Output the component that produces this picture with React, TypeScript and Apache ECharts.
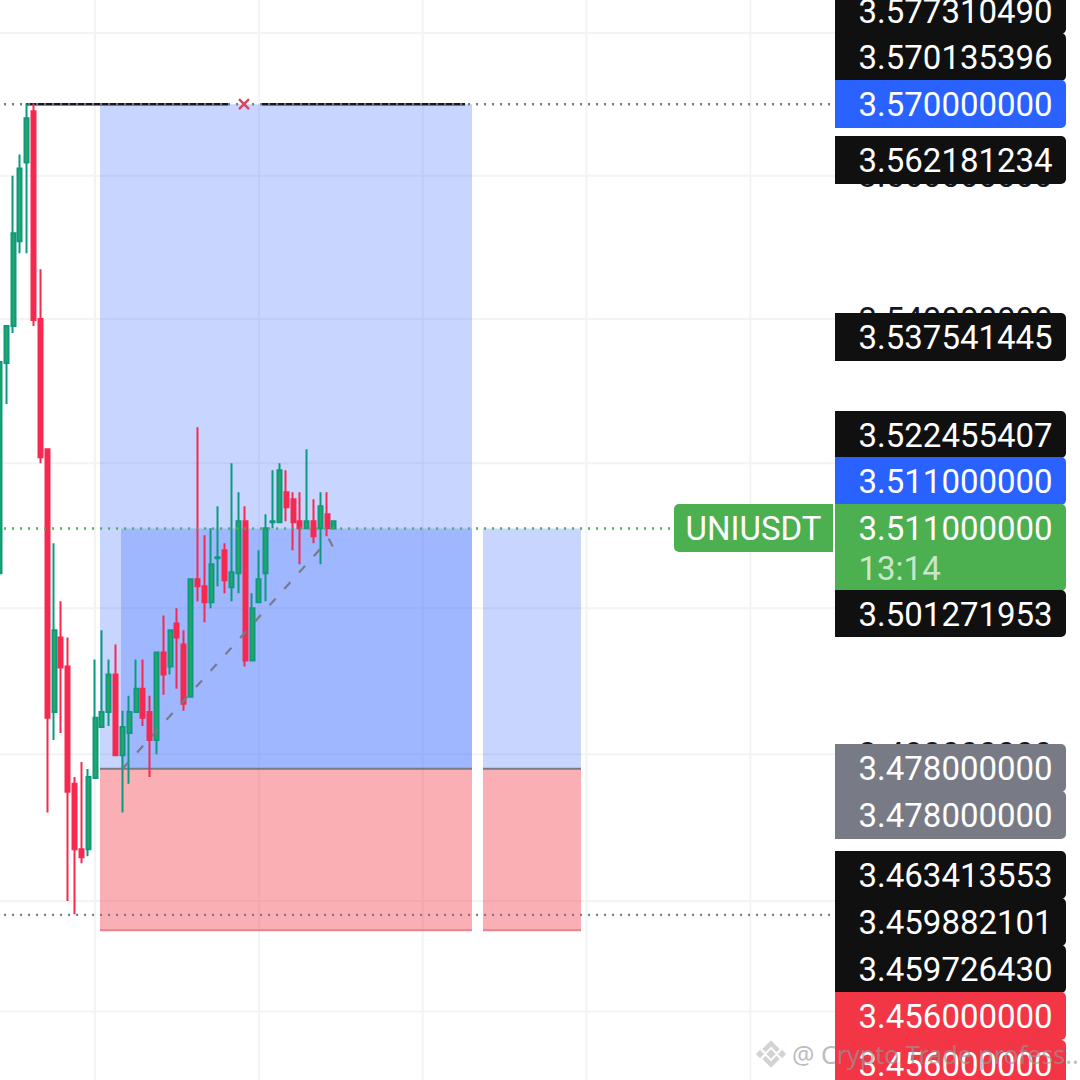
import React, { useEffect, useRef } from "react";
import * as echarts from "echarts";

const opens = [3.50483,3.53389,3.53903,3.55083,3.56183,3.56901,3.54,3.52194,3.48579,3.496,3.492,3.47595,3.46703,3.46703,3.47676,3.48373,3.48579,3.4909,3.47986,3.4829,3.48579,3.48897,3.48579,3.48193,3.49393,3.492,3.49793,3.49503,3.48786,3.504,3.50303,3.50083,3.5069,3.508,3.5029,3.50483,3.512,3.49283,3.50083,3.50483,3.51186,3.51186,3.516,3.51503,3.512,3.51103,3.512,3.51103,3.51297,3.511];
const closes = [3.53403,3.53903,3.55194,3.56099,3.56803,3.53986,3.52083,3.48497,3.49697,3.49186,3.47486,3.46703,3.46595,3.47689,3.48497,3.48579,3.4909,3.47986,3.48373,3.48579,3.48897,3.48497,3.48193,3.49393,3.4909,3.49697,3.496,3.4869,3.504,3.50303,3.50083,3.50607,3.50703,3.50386,3.50497,3.512,3.49283,3.5,3.504,3.51103,3.512,3.51903,3.51393,3.51186,3.51103,3.512,3.50993,3.51407,3.51103,3.512];
const lows = [3.50483,3.52819,3.53806,3.54917,3.54917,3.53903,3.52,3.47203,3.48193,3.4829,3.46,3.4582,3.46514,3.46608,3.47676,3.48373,3.48386,3.47986,3.47203,3.47595,3.48579,3.48386,3.47689,3.48,3.48814,3.4909,3.48897,3.48593,3.48786,3.50097,3.49807,3.5,3.50303,3.50207,3.50097,3.50207,3.492,3.49283,3.50083,3.50097,3.51103,3.51186,3.512,3.508,3.50607,3.51103,3.50897,3.50607,3.50993,3.511];
const highs = [3.53403,3.53903,3.56,3.56296,3.57014,3.57014,3.54694,3.52194,3.50897,3.50097,3.496,3.47689,3.47892,3.47797,3.49297,3.49697,3.49297,3.49503,3.48593,3.488,3.49297,3.49297,3.488,3.49393,3.49903,3.49697,3.5,3.49697,3.504,3.525,3.51007,3.51103,3.51407,3.50897,3.52,3.516,3.51407,3.50207,3.508,3.51297,3.51903,3.52,3.51903,3.516,3.516,3.52194,3.51503,3.516,3.516,3.512];

const categories = Array.from({ length: 123 }, (_, i) => String(i));
const gridLevels = [3.58, 3.56, 3.54, 3.52, 3.5, 3.48, 3.46, 3.445];
const gridBars = [14, 38, 62, 86, 110];
const axisLabelLevels = [3.56, 3.54, 3.48];

// position tool: [from bar, to bar, upper price, lower price]
const targetBox = [14.72, 69.22, 3.57, 3.478];
const entryBox = [17.8, 69.22, 3.511, 3.478];
const stopBox = [14.72, 69.22, 3.478, 3.456];
const targetBox2 = [70.83, 85.19, 3.511, 3.478];
const stopBox2 = [70.83, 85.19, 3.478, 3.456];
const BLUE = "rgba(41,98,255,0.26)";
const RED = "rgba(242,54,69,0.4)";

const highSegments = [[3.88, 33.47, 3.57], [38.46, 68.2, 3.57]];
const stopLines = [[14.72, 69.22, 3.478], [70.83, 85.19, 3.478]];
const bottomLines = [[14.72, 69.22, 3.456], [70.83, 85.19, 3.456]];
const dottedLevels = [[3.57, "#787b86"], [3.511, "#4caf50"], [3.4581, "#787b86"]];
const pathBars = [18.0, 48.27, 49.15];
const pathPrices = [3.478, 3.5095, 3.5079];
const crossMark = [35.82, 3.57];

const tagTexts = ["3.577310490","3.570135396","3.570000000","3.562181234","3.537541445","3.522455407","3.511000000","3.511000000","3.501271953","3.478000000","3.478000000","3.463413553","3.459882101","3.459726430","3.456000000","3.456000000"];
const tagColors = ["#101010","#101010","#2962ff","#101010","#101010","#101010","#2962ff","#4caf50","#101010","#787b86","#787b86","#101010","#101010","#101010","#f23645","#f23645"];
const tagTops = [-13,33,80,136,313,411,457,504,590,744,791,851,898,945,992,1040];
const tagHeights = [47,48,48,48,48,47,48,87,47,48,48,48,48,48,48,48];
const symbolName = "UNIUSDT";
const countdown = "13:14";
const watermark = "@ Crypto Trade profess...";

const FONT = "Roboto, sans-serif";

function line(api: any, x1: number, y1: number, x2: number, y2: number, style: any) {
  const a = api.coord([x1, y1]);
  const b = api.coord([x2, y2]);
  return { type: "line", shape: { x1: a[0], y1: a[1], x2: b[0], y2: b[1] }, style };
}

function diamond(cx: number, cy: number, r: number, fill: string) {
  return {
    type: "polygon",
    z: 120,
    shape: { points: [[cx, cy - r], [cx + r, cy], [cx, cy + r], [cx - r, cy]] },
    style: { fill, stroke: "rgba(255,255,255,0.6)", lineWidth: 1 },
  };
}

function chevron(cx: number, cy: number, dir: number, fill: string) {
  return {
    type: "polygon",
    z: 120,
    shape: {
      points: [
        [cx, cy - dir * 14],
        [cx + 9, cy - dir * 5],
        [cx + 5.5, cy - dir * 1.5],
        [cx, cy - dir * 7],
        [cx - 5.5, cy - dir * 1.5],
        [cx - 9, cy - dir * 5],
      ],
    },
    style: { fill, stroke: "rgba(255,255,255,0.6)", lineWidth: 1 },
  };
}

export default function App() {
  const ref = useRef<HTMLDivElement>(null);
  useEffect(() => {
    const chart = echarts.init(ref.current!, null, { renderer: "svg", width: 1080, height: 1080 });

    const tagGraphics: any[] = [];
    tagTexts.forEach((t, i) => {
      tagGraphics.push({
        type: "rect",
        z: 100 + i * 0.01,
        shape: { x: 835, y: tagTops[i], width: 231, height: tagHeights[i], r: [0, 5, 5, 0] },
        style: { fill: tagColors[i] },
      });
      tagGraphics.push({
        type: "text",
        z: 100.005 + i * 0.01,
        x: 858.5,
        y: tagTops[i] + 24,
        style: { text: t, font: `33px ${FONT}`, fill: "#ffffff", textAlign: "left", textVerticalAlign: "middle" },
      });
    });

    const wm = "rgba(175,175,180,0.55)";
    const decorations = [
      {
        type: "rect",
        z: 101,
        shape: { x: 674, y: 504, width: 159, height: 48, r: [5, 0, 0, 5] },
        style: { fill: "#4caf50" },
      },
      {
        type: "text",
        z: 101,
        x: 753.5,
        y: 528,
        style: { text: symbolName, font: `33px ${FONT}`, fill: "#ffffff", textAlign: "center", textVerticalAlign: "middle" },
      },
      {
        type: "text",
        z: 101,
        x: 858.5,
        y: 568,
        style: { text: countdown, font: `33px ${FONT}`, fill: "#c8e7c9", textAlign: "left", textVerticalAlign: "middle" },
      },
      chevron(771, 1040 + 14, 1, wm),
      chevron(771, 1068 - 14, -1, wm),
      diamond(760, 1054, 4.5, wm),
      diamond(782, 1054, 4.5, wm),
      diamond(771, 1054, 5, wm),
      {
        type: "text",
        z: 120,
        x: 792,
        y: 1054,
        style: {
          text: watermark,
          font: `25px "Noto Sans", sans-serif`,
          fill: "rgba(150,150,155,0.65)",
          textAlign: "left",
          textVerticalAlign: "middle",
        },
      },
    ];

    chart.setOption({
      animation: false,
      backgroundColor: "#ffffff",
      grid: { left: -3.913, width: 839.6, top: -108.8, height: 1231.4, containLabel: false, outerBoundsMode: "none" },
      xAxis: [
        { type: "category", data: categories, boundaryGap: true, axisLine: { show: false }, axisTick: { show: false }, axisLabel: { show: false }, splitLine: { show: false } },
        { type: "value", min: -0.5, max: 122.5, show: false, splitLine: { show: false } },
      ],
      yAxis: {
        type: "log",
        logBase: Math.E,
        min: 3.43,
        max: 3.6,
        position: "right",
        axisLine: { show: false },
        axisTick: { show: false },
        axisLabel: { show: false },
        splitLine: { show: false },
      },
      series: [
        {
          type: "custom",
          name: "grid",
          xAxisIndex: 1,
          z: 0,
          silent: true,
          clip: false,
          encode: { x: 0, y: 1 },
          data: gridLevels.map((v) => [0, v]),
          renderItem: (_: any, api: any) =>
            line(api, -0.5, api.value(1), 122.5, api.value(1), { stroke: "#f2f3f5", lineWidth: 2 }),
        },
        {
          type: "custom",
          name: "gridV",
          xAxisIndex: 1,
          z: 0,
          silent: true,
          clip: false,
          encode: { x: 0, y: 1 },
          data: gridBars.map((b) => [b, 3.5]),
          renderItem: (_: any, api: any) =>
            line(api, api.value(0), 3.43, api.value(0), 3.6, { stroke: "#f2f3f5", lineWidth: 2 }),
        },
        {
          type: "custom",
          name: "axisLabels",
          xAxisIndex: 1,
          z: 1,
          silent: true,
          clip: false,
          encode: { x: 0, y: 1 },
          data: axisLabelLevels.map((v) => [122.5, v]),
          renderItem: (_: any, api: any) => {
            const p = api.coord([122.5, api.value(1)]);
            return {
              type: "text",
              x: 858.5,
              y: p[1],
              style: {
                text: api.value(1).toFixed(9),
                font: `33px ${FONT}`,
                fill: "#131722",
                textAlign: "left",
                textVerticalAlign: "middle",
              },
            };
          },
        },
        {
          type: "custom",
          name: "boxes",
          xAxisIndex: 1,
          z: 1,
          silent: true,
          clip: false,
          encode: { x: 0, y: 2 },
          data: [
            [...targetBox, 0],
            [...entryBox, 0],
            [...stopBox, 1],
            [...targetBox2, 0],
            [...stopBox2, 1],
          ],
          renderItem: (_: any, api: any) => {
            const a = api.coord([api.value(0), api.value(2)]);
            const b = api.coord([api.value(1), api.value(3)]);
            return {
              type: "rect",
              shape: { x: a[0], y: a[1], width: b[0] - a[0], height: b[1] - a[1] },
              style: { fill: api.value(4) === 0 ? BLUE : RED },
            };
          },
        },
        {
          type: "custom",
          name: "edges",
          xAxisIndex: 1,
          z: 1.5,
          silent: true,
          clip: false,
          encode: { x: 0, y: 2 },
          data: stopLines.map((l) => [...l, 0]).concat(bottomLines.map((l) => [...l, 1])),
          renderItem: (_: any, api: any) =>
            line(api, api.value(0), api.value(2), api.value(1), api.value(2), {
              stroke: api.value(3) === 0 ? "#787b86" : "rgba(225,110,125,0.8)",
              lineWidth: 2,
            }),
        },
        {
          type: "custom",
          name: "highLine",
          xAxisIndex: 1,
          z: 1.5,
          silent: true,
          clip: false,
          encode: { x: 0, y: 2 },
          data: highSegments,
          renderItem: (_: any, api: any) =>
            line(api, api.value(0), api.value(2), api.value(1), api.value(2), { stroke: "#131722", lineWidth: 2.5 }),
        },
        {
          type: "candlestick",
          name: "UNIUSDT",
          xAxisIndex: 0,
          z: 2,
          barWidth: 4.5,
          clip: false,
          data: opens.map((o, i) => [o, closes[i], lows[i], highs[i]]),
          itemStyle: {
            color: "#2aa862",
            color0: "#f72950",
            borderColor: "#0b9a80",
            borderColor0: "#f72950",
            borderWidth: 2,
          },
        },
        {
          type: "line",
          name: "path",
          xAxisIndex: 1,
          z: 3,
          silent: true,
          symbol: "none",
          data: pathBars.map((b, i) => [b, pathPrices[i]]),
          lineStyle: { color: "#787b86", width: 2.2, type: [9, 13] },
        },
        {
          type: "custom",
          name: "dotted",
          xAxisIndex: 1,
          z: 3,
          silent: true,
          clip: false,
          encode: { x: 0, y: 1 },
          data: dottedLevels.map((d, i) => [i, d[0]]),
          renderItem: (_: any, api: any) =>
            line(api, -0.5, api.value(1), 122.5, api.value(1), {
              stroke: dottedLevels[api.value(0)][1],
              lineWidth: 2.4,
              lineDash: [2, 6],
            }),
        },
        {
          type: "custom",
          name: "cross",
          xAxisIndex: 1,
          z: 4,
          silent: true,
          clip: false,
          encode: { x: 0, y: 1 },
          data: [crossMark],
          renderItem: (_: any, api: any) => {
            const p = api.coord([api.value(0), api.value(1)]);
            const s = { stroke: "#d9455f", lineWidth: 2.4 };
            return {
              type: "group",
              children: [
                { type: "line", shape: { x1: p[0] - 5, y1: p[1] - 5, x2: p[0] + 5, y2: p[1] + 5 }, style: s },
                { type: "line", shape: { x1: p[0] - 5, y1: p[1] + 5, x2: p[0] + 5, y2: p[1] - 5 }, style: s },
              ],
            };
          },
        },
      ],
      graphic: [...tagGraphics, ...decorations],
    });
    return () => chart.dispose();
  }, []);
  return <div ref={ref} style={{ position: "fixed", left: 0, top: 0, width: 1080, height: 1080, background: "#fff" }} />;
}
